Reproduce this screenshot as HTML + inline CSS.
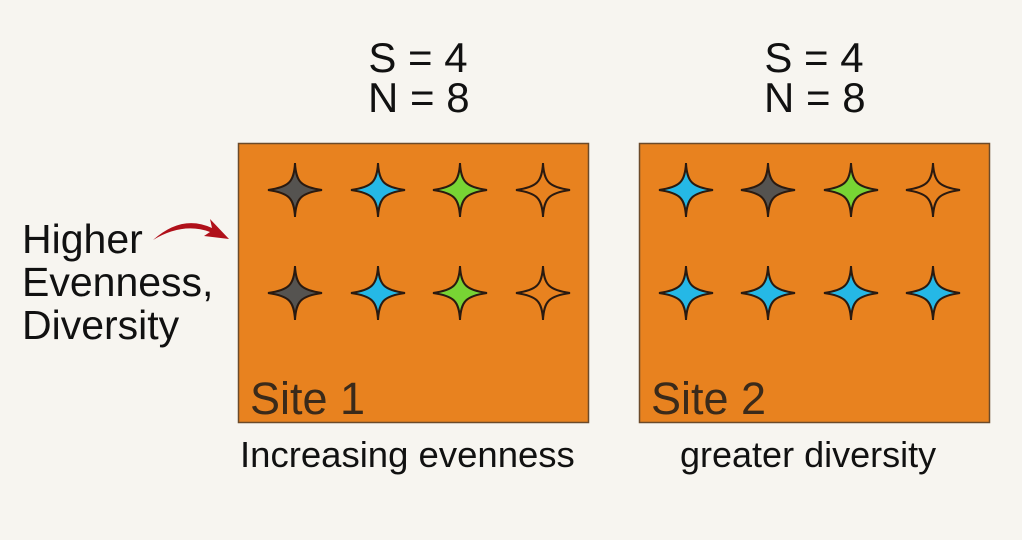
<!DOCTYPE html>
<html><head><style>
body{margin:0;width:1022px;height:540px;background:#f7f5f0;position:relative;overflow:hidden;font-family:"Liberation Sans",Arial,sans-serif;color:#111}
.t{position:absolute;white-space:nowrap}
</style></head><body>
<div class="t" style="left:368px;top:38px;font-size:42px;line-height:40px;text-align:center;width:100px">S = 4<br>N = 8</div>
<div class="t" style="left:764px;top:38px;font-size:42px;line-height:40px;text-align:center;width:100px">S = 4<br>N = 8</div>
<div class="t" style="left:22px;top:218px;font-size:41px;line-height:43px">Higher<br>Evenness,<br>Diversity</div>
<div class="t" style="left:240px;top:434px;font-size:36.5px">Increasing evenness</div>
<div class="t" style="left:680px;top:434px;font-size:36px">greater diversity</div>
<svg width="1022" height="540" style="position:absolute;left:0;top:0">
<defs>
<path id="st" d="M0,-27 C1,-8 6,-3 27,0 C6,3 1,8 0,27 C-1,8 -6,3 -27,0 C-6,-3 -1,-8 0,-27Z"/>
</defs>
<rect x="238.5" y="143.5" width="350" height="279" fill="#e8821f" stroke="#6b4a2a" stroke-width="1.5"/>
<rect x="639.5" y="143.5" width="350" height="279" fill="#e8821f" stroke="#6b4a2a" stroke-width="1.5"/>
<g stroke="#2a1a10" stroke-width="2">
<use href="#st" x="295" y="190" fill="#555350"/><use href="#st" x="378" y="190" fill="#25b8e6"/><use href="#st" x="460" y="190" fill="#78d434"/><use href="#st" x="543" y="190" fill="#e8821f"/>
<use href="#st" x="295" y="293" fill="#555350"/><use href="#st" x="378" y="293" fill="#25b8e6"/><use href="#st" x="460" y="293" fill="#78d434"/><use href="#st" x="543" y="293" fill="#e8821f"/>
<use href="#st" x="686" y="190" fill="#25b8e6"/><use href="#st" x="768" y="190" fill="#555350"/><use href="#st" x="851" y="190" fill="#78d434"/><use href="#st" x="933" y="190" fill="#e8821f"/>
<use href="#st" x="686" y="293" fill="#25b8e6"/><use href="#st" x="768" y="293" fill="#25b8e6"/><use href="#st" x="851" y="293" fill="#25b8e6"/><use href="#st" x="933" y="293" fill="#25b8e6"/>
</g>
<path d="M153,240 Q182,214 212,228 L210,219 L229,239 L204,236 L210,232 Q183,222 153,240Z" fill="#b0101a"/>
<text x="250" y="414" font-family="Liberation Sans,sans-serif" font-size="45" fill="#3a2a1a">Site 1</text>
<text x="651" y="414" font-family="Liberation Sans,sans-serif" font-size="45" fill="#3a2a1a">Site 2</text>
</svg>
</body></html>
